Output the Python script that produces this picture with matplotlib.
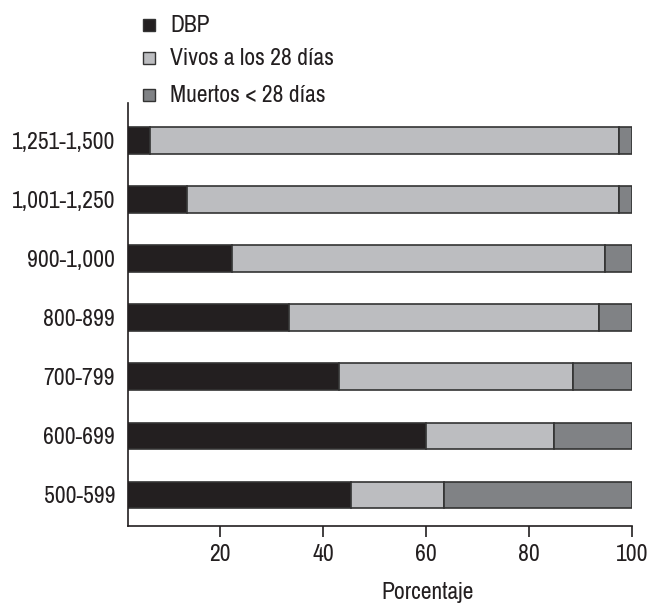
import matplotlib
matplotlib.use("Agg")
import matplotlib.pyplot as plt
from matplotlib.patches import Rectangle

plt.rcParams['font.family'] = ['Archivo Narrow', 'DejaVu Sans']

categories = ["500-599", "600-699", "700-799", "800-899", "900-1,000", "1,001-1,250", "1,251-1,500"]
dbp = [45.4, 60.1, 43.1, 33.3, 22.2, 13.6, 6.3]
vivos = [18.2, 24.7, 45.5, 60.3, 72.7, 84.0, 91.3]
muertos = [36.4, 15.2, 11.4, 6.4, 5.1, 2.4, 2.4]
series_names = ["DBP", "Vivos a los 28 días", "Muertos < 28 días"]
colors = ["#231f20", "#bcbdc0", "#808285"]
xticks = [20, 40, 60, 80, 100]

fig = plt.figure(figsize=(6.49, 6.05), dpi=100)
ax = fig.add_axes([127.7/649, 1-525.7/605, 504/649, (525.7-103)/605])

y = list(range(len(categories)))
left = [0]*len(categories)
for vals, c in zip([dbp, vivos, muertos], colors):
    ax.barh(y, vals, left=left, height=0.45, color=c, edgecolor="#333333", linewidth=1.2)
    left = [l+v for l, v in zip(left, vals)]

ax.set_xlim(2, 100)
ax.set_ylim(-0.52, 6.63)
ax.set_yticks(y)
ax.set_yticklabels(categories, fontsize=17, color="#231f20")
ax.set_xticks(xticks)
ax.set_xticklabels([str(t) for t in xticks], fontsize=17, color="#231f20")
ax.tick_params(axis='y', length=0, pad=9)
ax.tick_params(axis='x', length=8, width=1.2, pad=5, color="#231f20")
for s in ["top", "right"]:
    ax.spines[s].set_visible(False)
for s in ["left", "bottom"]:
    ax.spines[s].set_linewidth(1.2)
    ax.spines[s].set_color("#231f20")
ax.set_xlabel("Porcentaje", fontsize=17, color="#231f20")
ax.xaxis.set_label_coords((427.5-127.7)/504, -0.133)

# legend (baselines in pixels from top)
leg_base = [32.3, 65, 101.7]
for name, c, yb in zip(series_names, colors, leg_base):
    fig.add_artist(Rectangle((143/649, 1-(yb-1)/605), 12/649, 12/605,
                             transform=fig.transFigure, facecolor=c,
                             edgecolor="#333333", linewidth=1))
    fig.text(170/649, 1-yb/605, name, fontsize=17, va="baseline", ha="left", color="#231f20")

fig.savefig("out.png", dpi=100)
